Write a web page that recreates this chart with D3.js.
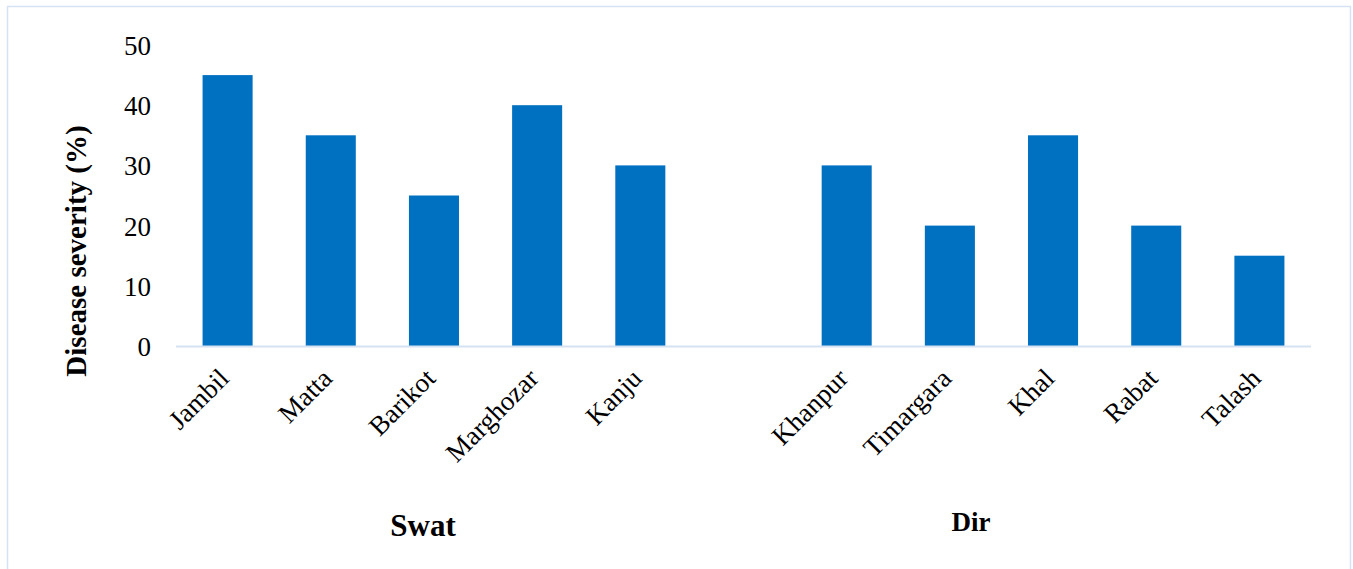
<!DOCTYPE html>
<html><head><meta charset="utf-8">
<script src="https://cdn.jsdelivr.net/npm/d3@7"></script>
<style>body{margin:0;background:#fff}svg{display:block}</style>
</head><body>
<svg id="c" width="1353" height="569"></svg>
<script>
const categories = ["Jambil","Matta","Barikot","Marghozar","Kanju","","Khanpur","Timargara","Khal","Rabat","Talash"];
const values = [45,35,25,40,30,null,30,20,35,20,15];
const yTicks = [0,10,20,30,40,50];
const groups = ["Swat","Dir"];
const yTitle = "Disease severity (%)";

const svg = d3.select("#c");
const font = "'Liberation Serif', serif";

svg.append("rect").attr("x",7.5).attr("y",6.5).attr("width",1343).attr("height",580)
  .attr("fill","#fff").attr("stroke","#d6e2f2").attr("stroke-width",1.5);

const x = d3.scaleBand().domain(categories.map((c,i)=>i)).range([176,1311]).padding(0);
const y = d3.scaleLinear().domain([0,50]).range([346,45]);
const bw = x.bandwidth()*0.485;

svg.append("g").selectAll("rect").data(values.map((v,i)=>({v,i})).filter(d=>d.v!=null))
  .join("rect")
  .attr("x",d=>x(d.i)+x.bandwidth()/2-bw/2)
  .attr("y",d=>y(d.v))
  .attr("width",bw)
  .attr("height",d=>y(0)-y(d.v))
  .attr("fill","#0070c0");

// x axis line
svg.append("line").attr("x1",176).attr("x2",1311).attr("y1",346.5).attr("y2",346.5)
  .attr("stroke","#d6e2f2").attr("stroke-width",2);

// y axis ticks via axis
const yAxis = svg.append("g").attr("transform","translate(151,0)")
  .call(d3.axisLeft(y).tickValues(yTicks).tickSize(0).tickPadding(0));
yAxis.select(".domain").remove();
yAxis.selectAll("text").attr("font-family",font).attr("font-size",27).attr("fill","#000").attr("dy","0.35em");

// x labels
svg.append("g").selectAll("text").data(categories.map((c,i)=>({c,i})).filter(d=>d.c))
  .join("text")
  .attr("transform",d=>`translate(${x(d.i)+x.bandwidth()/2+3},${380}) rotate(-45)`)
  .attr("text-anchor","end")
  .attr("font-family",font).attr("font-size",27).attr("fill","#000")
  .text(d=>d.c);

// group labels
svg.append("text").attr("x",423).attr("y",536).attr("text-anchor","middle")
  .attr("font-family",font).attr("font-weight","bold").attr("font-size",31).text(groups[0]);
svg.append("text").attr("x",971).attr("y",531).attr("text-anchor","middle")
  .attr("font-family",font).attr("font-weight","bold").attr("font-size",27).text(groups[1]);

// y title
svg.append("text").attr("transform","translate(86,251) rotate(-90)").attr("text-anchor","middle")
  .attr("font-family",font).attr("font-weight","bold").attr("font-size",29).text(yTitle);
</script>
</body></html>
